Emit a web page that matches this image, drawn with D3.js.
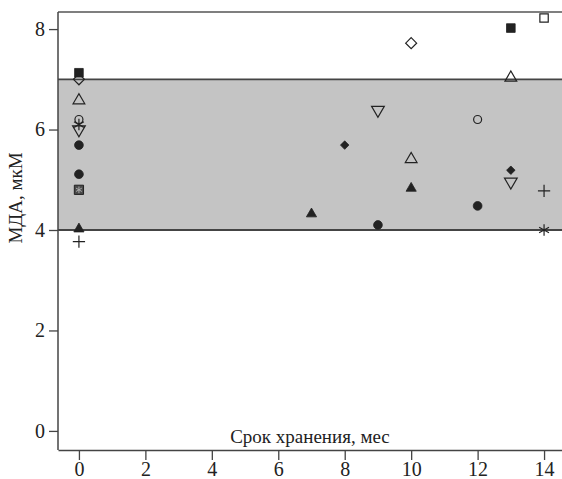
<!DOCTYPE html>
<html><head><meta charset="utf-8">
<script src="https://cdn.jsdelivr.net/npm/d3@7"></script>
<style>body{margin:0;background:#fff}svg{display:block}</style>
</head><body>
<svg id="chart" width="562" height="479"></svg>
<script>
// Data: storage time (months) and MDA (µM) per sample marker type
const xTicks = [0, 2, 4, 6, 8, 10, 12, 14];
const yTicks = [0, 2, 4, 6, 8];
const normRange = [4, 7];
const xLabel = "Срок хранения, мес";
const yLabel = "МДА, мкМ";

const filledSquare   = [[0, 7.13], [13, 8.02]];
const openDiamond    = [[0, 7.0], [10, 7.72]];
const openTriangle   = [[0, 6.58], [10, 5.41], [13, 7.03]];
const openCircle     = [[0, 6.2], [12, 6.2]];
const asterisk       = [[0, 6.1], [14, 4.0]];
const openDownTri    = [[0, 6.0], [9, 6.39], [13, 4.96]];
const filledCircle   = [[0, 5.69], [0, 5.11], [9, 4.1], [12, 4.48]];
const filledDiamond  = [[8, 5.69], [13, 5.19]];
const filledTriangle = [[0, 4.02], [7, 4.32], [10, 4.83]];
const plusMark       = [[0, 3.77], [14, 4.78]];
const openSquare     = [[14, 8.22]];
const boxedStar      = [[0, 4.8]];

const svg = d3.select("#chart");
const W = 562, H = 479;
const m = {left: 58, top: 12, right: 0, bottom: 29};
const x = d3.scaleLinear().domain([-0.63, 14.54]).range([m.left, W - m.right]);
const y = d3.scaleLinear().domain([-0.38, 8.34]).range([H - m.bottom, m.top]);
const FONT = "'Liberation Serif', 'Times New Roman', serif";
const ink = "#222";

// band
svg.append("rect").attr("x", x.range()[0]).attr("width", x.range()[1] - x.range()[0])
  .attr("y", y(normRange[1])).attr("height", y(normRange[0]) - y(normRange[1]))
  .attr("fill", "#c4c4c4");
normRange.forEach(v => svg.append("line").attr("x1", x.range()[0]).attr("x2", x.range()[1])
  .attr("y1", y(v)).attr("y2", y(v)).attr("stroke", "#444").attr("stroke-width", 1.8));
// top border
svg.append("line").attr("x1", x.range()[0]).attr("x2", x.range()[1])
  .attr("y1", y.range()[1]).attr("y2", y.range()[1]).attr("stroke", "#555").attr("stroke-width", 1.5);

// axes
const xAxis = d3.axisBottom(x).tickValues(xTicks).tickSize(10).tickSizeOuter(0).tickPadding(2);
const yAxis = d3.axisLeft(y).tickValues(yTicks).tickSize(9).tickSizeOuter(0).tickPadding(4);
const gx = svg.append("g").attr("transform", `translate(0,${y.range()[0]})`).call(xAxis);
const gy = svg.append("g").attr("transform", `translate(${x.range()[0]},0)`).call(yAxis);
[gx, gy].forEach(g => {
  g.select(".domain").attr("stroke", "#444").attr("stroke-width", 1.5);
  g.selectAll(".tick line").attr("stroke", "#444").attr("stroke-width", 1.3);
  g.selectAll("text").attr("font-family", FONT).attr("font-size", 20).attr("fill", ink);
});
gy.select(".domain").attr("d", `M0,${y.range()[1]}V${y.range()[0]}`);

// axis titles
svg.append("text").attr("x", (x.range()[0] + x.range()[1]) / 2).attr("y", 443)
  .attr("text-anchor", "middle").attr("font-family", FONT).attr("font-size", 19).attr("fill", ink)
  .text(xLabel);
svg.append("text").attr("transform", `translate(22,198) rotate(-90)`)
  .attr("text-anchor", "middle").attr("font-family", FONT).attr("font-size", 19).attr("fill", ink)
  .text(yLabel);

// markers
const g = svg.append("g");
const sym = (type, size) => d3.symbol().type(type).size(size)();
function draw(data, shape, size, filled) {
  g.selectAll(null).data(data).enter().append("path")
    .attr("transform", d => `translate(${x(d[0])},${y(d[1])})`)
    .attr("d", sym(shape, size))
    .attr("fill", filled ? ink : "none")
    .attr("stroke", ink).attr("stroke-width", filled ? 0.8 : 1.2);
}
const downTri = {draw(ctx, size) { const s = Math.sqrt(size / (Math.sqrt(3) / 4)); const h = s * Math.sqrt(3) / 2;
  ctx.moveTo(-s/2, -h/3); ctx.lineTo(s/2, -h/3); ctx.lineTo(0, 2*h/3); ctx.closePath(); }};
const upTri = {draw(ctx, size) { const s = Math.sqrt(size / (Math.sqrt(3) / 4)); const h = s * Math.sqrt(3) / 2;
  ctx.moveTo(-s/2, h/3); ctx.lineTo(s/2, h/3); ctx.lineTo(0, -2*h/3); ctx.closePath(); }};
const diamond = {draw(ctx, size) { const r = Math.sqrt(size / 2); ctx.moveTo(0, -r); ctx.lineTo(r, 0); ctx.lineTo(0, r); ctx.lineTo(-r, 0); ctx.closePath(); }};
const star6 = {draw(ctx, size) { const r = Math.sqrt(size) / 2; for (let i = 0; i < 3; i++) { const a = Math.PI / 2 + i * Math.PI / 3;
  ctx.moveTo(r * Math.cos(a), r * Math.sin(a)); ctx.lineTo(-r * Math.cos(a), -r * Math.sin(a)); } }};
const plus = {draw(ctx, size) { const r = Math.sqrt(size) / 2; ctx.moveTo(-r, 0); ctx.lineTo(r, 0); ctx.moveTo(0, -r); ctx.lineTo(0, r); }};

draw(filledSquare, d3.symbolSquare, 75, true);
draw(openDiamond, diamond, 60, false);
draw(openTriangle, upTri, 60, false);
draw(openCircle, d3.symbolCircle, 50, false);
draw(asterisk, star6, 130, false);
draw(openDownTri, downTri, 70, false);
draw(filledCircle, d3.symbolCircle, 60, true);
draw(filledDiamond, diamond, 36, true);
draw(filledTriangle, upTri, 45, true);
draw(plusMark, plus, 150, false);
draw(openSquare, d3.symbolSquare, 70, false);
// boxed star: dark grey square with lighter star
g.selectAll(null).data(boxedStar).enter().append("path")
  .attr("transform", d => `translate(${x(d[0])},${y(d[1])})`)
  .attr("d", sym(d3.symbolSquare, 85)).attr("fill", "#4a4a4a").attr("stroke", ink).attr("stroke-width", 1);
g.selectAll(null).data(boxedStar).enter().append("path")
  .attr("transform", d => `translate(${x(d[0])},${y(d[1])})`)
  .attr("d", sym(star6, 45)).attr("fill", "none").attr("stroke", "#aaa").attr("stroke-width", 1);
</script>
</body></html>
